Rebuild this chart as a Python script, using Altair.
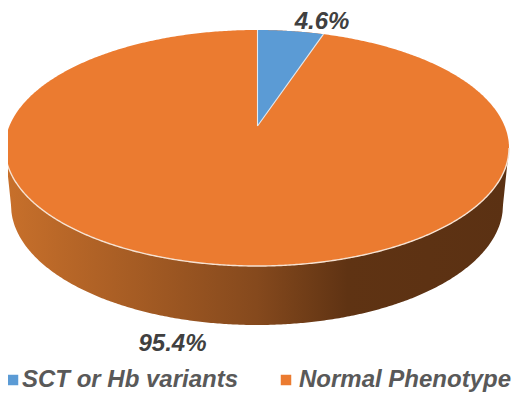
import numpy as np
import pandas as pd
import altair as alt

categories = ["SCT or Hb variants", "Normal Phenotype"]
shares = [4.6, 95.4]
colors = ["#5B9BD5", "#EB7B30"]
label_pos = [(322, 22), (172.5, 344)]   # percent labels
key_pos = [(13, 380), (286, 380)]       # legend squares
key_text_pos = [(22, 380), (299, 380)]  # legend labels

# pie geometry, in page pixels
CX, CY, RX, RY = 257.0, 148.0, 252.0, 118.0      # top face
AX, AY = 257.5, 126.0                            # apex of the slices
LX, LY, LRX, LRY = 257.0, 205.0, 246.0, 120.0    # lower rim
WEDGE_RX, WEDGE_RY = 232.0, 96.0


def upper(x):
    return CY - RY * np.sqrt(np.clip(1 - ((x - CX) / RX) ** 2, 0, 1))


def lower(x):
    return CY + RY * np.sqrt(np.clip(1 - ((x - CX) / RX) ** 2, 0, 1))


ts = np.linspace(0, np.pi, 361)
xs = CX - RX * np.cos(ts)

top = pd.DataFrame({"x": xs, "y": upper(xs), "y2": lower(xs), "cat": categories[1]})

# side wall: from the top face's lower edge to the lower rim
rim = LY + LRY * np.sqrt(np.clip(1 - ((xs - LX) / LRX) ** 2, 0, 1))
left_edge = CY + (xs - (CX - RX)) / (LX - LRX - (CX - RX)) * (LY - CY)
right_edge = CY + ((CX + RX) - xs) / ((CX + RX) - (LX + LRX)) * (LY - CY)
rim = np.where(xs < LX - LRX, left_edge, rim)
rim = np.where(xs > LX + LRX, right_edge, rim)
side = pd.DataFrame({"x": xs, "y": lower(xs), "y2": rim})

# blue slice: ray from the apex, at the share's angle, meets the top face
theta = shares[0] / 100 * 2 * np.pi
dx, dy = np.sin(theta) * WEDGE_RX, -np.cos(theta) * WEDGE_RY
a = (dx / RX) ** 2 + (dy / RY) ** 2
b = 2 * ((AX - CX) * dx / RX**2 + (AY - CY) * dy / RY**2)
c = ((AX - CX) / RX) ** 2 + ((AY - CY) / RY) ** 2 - 1
k = (-b + np.sqrt(b * b - 4 * a * c)) / (2 * a)
ex, ey = AX + k * dx, AY + k * dy
wx = np.linspace(AX, ex, 60)
wedge = pd.DataFrame({
    "x": wx,
    "y": upper(wx),
    "y2": AY + (wx - AX) / (ex - AX) * (ey - AY),
    "cat": categories[0],
})
edges = pd.DataFrame({
    "x": [AX, AX, AX, ex],
    "y": [upper(np.array(AX)), AY, AY, ey],
    "seg": [0, 0, 1, 1],
})
labels = pd.DataFrame({
    "x": [p[0] for p in label_pos],
    "y": [p[1] for p in label_pos],
    "t": [f"{s}%" for s in shares],
})
keys = pd.DataFrame({
    "x": [p[0] for p in key_pos],
    "y": [p[1] for p in key_pos],
    "tx": [p[0] for p in key_text_pos],
    "cat": categories,
})

x_scale = alt.Scale(domain=[8, 512], range=[0, 504])
y_scale = alt.Scale(domain=[8, 393], range=[0, 385])
X = alt.X("x:Q", scale=x_scale, axis=None)
Y = alt.Y("y:Q", scale=y_scale, axis=None)
color = alt.Color(
    "cat:N",
    scale=alt.Scale(domain=categories, range=colors),
    sort=categories,
    legend=None,
)

gradient = alt.Gradient(
    gradient="linear", x1=0, x2=1, y1=0, y2=0,
    stops=[
        alt.GradientStop(color="#C8702B", offset=0),
        alt.GradientStop(color="#85491D", offset=0.5),
        alt.GradientStop(color="#5F3313", offset=0.68),
        alt.GradientStop(color="#5B3113", offset=1),
    ],
)

side_layer = alt.Chart(side).mark_area(color=gradient).encode(x=X, y=Y, y2="y2:Q")
top_layer = alt.Chart(top).mark_area().encode(x=X, y=Y, y2="y2:Q", color=color)
rim_line = alt.Chart(top.assign(y=lower(xs))).mark_line(
    color="#F6E2D2", strokeWidth=1.4
).encode(x=X, y=Y)
wedge_layer = alt.Chart(wedge).mark_area().encode(x=X, y=Y, y2="y2:Q", color=color)
edge_layer = alt.Chart(edges).mark_line(
    color="#E4EAF0", strokeWidth=1.1, orient="vertical"
).encode(x=X, y=Y, detail="seg:N", order=alt.Order("y:Q"))
text_layer = alt.Chart(labels).mark_text(
    font="Liberation Sans", fontSize=24, fontStyle="italic", fontWeight="bold",
    color="#404040", baseline="middle", align="center",
).encode(x=X, y=Y, text="t:N")
key_layer = alt.Chart(keys).mark_square(size=110, opacity=1, strokeWidth=0).encode(
    x=X, y=Y, color=color
)
key_text = alt.Chart(keys).mark_text(
    font="Liberation Sans", fontSize=24, fontStyle="italic", fontWeight="bold",
    color="#595959", baseline="middle", align="left",
).encode(x=alt.X("tx:Q", scale=x_scale, axis=None), y=Y, text="cat:N")

chart = (
    alt.layer(side_layer, top_layer, rim_line, wedge_layer, edge_layer, text_layer, key_layer, key_text)
    .resolve_scale(color="shared")
    .properties(
        width=504, height=385, padding=0,
        autosize=alt.AutoSizeParams(type="none"),
    )
    .configure_view(stroke=None)
)

chart.save("out.html", embed_options={"renderer": "svg", "actions": False})
